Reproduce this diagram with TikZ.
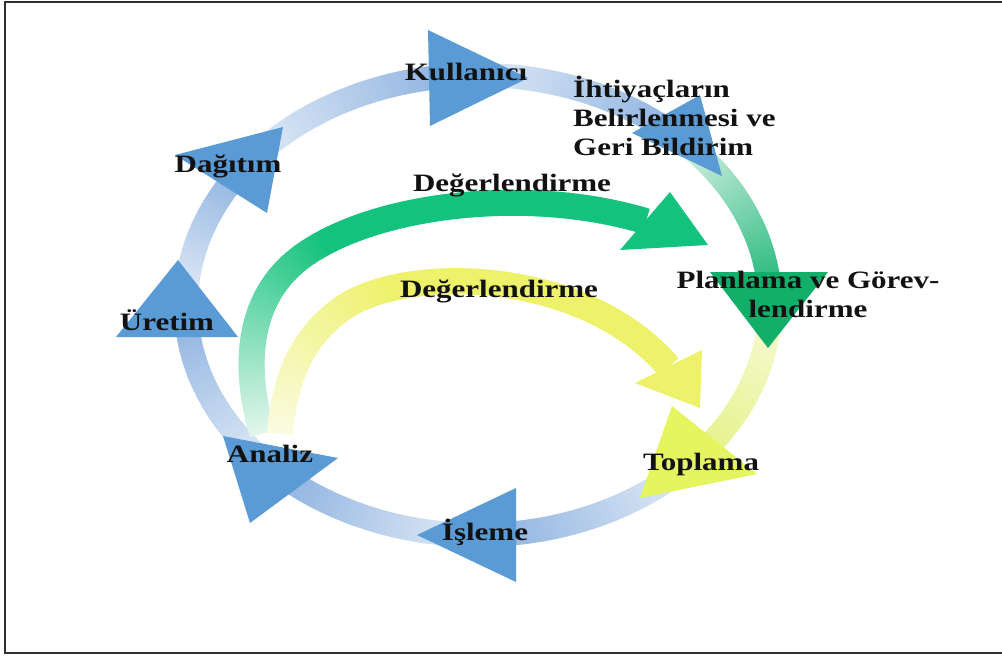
\documentclass[tikz,border=0pt]{standalone}
\usepackage{fontspec}
\setmainfont{Liberation Serif}
\usetikzlibrary{decorations.markings}
\definecolor{triblue}{HTML}{5B9BD5}
\definecolor{ringpale}{HTML}{E6EEF8}
\definecolor{ringdark}{HTML}{8AB0DF}
\definecolor{gpale}{HTML}{DDF3E8}
\definecolor{gdark}{HTML}{1CB676}
\definecolor{ypale}{HTML}{F8FBDC}
\definecolor{ydark}{HTML}{E3F283}
\definecolor{trigreen}{HTML}{12AF6B}
\definecolor{triyellow}{HTML}{E4F55F}
\definecolor{arcgreen}{HTML}{13C27C}
\definecolor{arcgreenpale}{HTML}{E2F6EC}
\definecolor{arcyellow}{HTML}{EEF16A}
\definecolor{arcyellowpale}{HTML}{FAFBE0}
\definecolor{txt}{HTML}{121212}
\definecolor{framecol}{HTML}{303030}
\newcommand\wide[1]{\scalebox{1.24}[1]{#1}}
\tikzset{
 gradline/.style n args={4}{postaction={decorate,decoration={markings,
   mark=between positions 0 and 1 step 2.5pt with {%
     \pgfmathsetmacro\gf{min(100,(\pgfkeysvalueof{/pgf/decoration/mark info/distance from start}/\pgfdecoratedpathlength)/#4*100)}%
     \draw[line width=#3,draw=#2!\gf!#1,line cap=butt] (-1.8pt,0) -- (1.8pt,0);}}}},
 lbl/.style={font=\fontsize{25}{29}\selectfont\bfseries, text=txt, inner sep=0pt, anchor=base},
}
\begin{document}
\begin{tikzpicture}[x=1pt,y=-1pt]
\useasboundingbox (0,0) rectangle (1002,657);
\fill[white] (0,0) rectangle (1002,657);
\draw[framecol, line width=2pt] (1002,1.5) -- (4.5,1.5) -- (4.5,653) -- (1002,653);
\def\ringseg#1#2#3#4{\path[gradline={#3}{#4}{24pt}{1}] ({478+292*cos(#1)},{305+230*sin(#1)}) arc[start angle=#1,end angle=#2,x radius=292,y radius=230];}
\ringseg{180}{217}{ringpale}{ringdark}
\ringseg{217}{267}{ringpale}{ringdark}
\ringseg{267}{314}{ringpale}{ringdark}
\ringseg{314}{358}{gpale}{gdark}
\ringseg{358}{402.7}{ypale}{ydark}
\ringseg{42.7}{89}{ringpale}{ringdark}
\ringseg{89}{134.4}{ringpale}{ringdark}
\ringseg{134.4}{180}{ringpale}{ringdark}
% inner arcs
\path[gradline={arcgreenpale}{arcgreen}{26pt}{0.4}] (262,432) .. controls (244,370) and (245,300) .. (300,258) .. controls (370,205) and (525,185) .. (645,221);
\fill[arcgreen] (670,192) -- (708,245) -- (620,250) -- cycle;
\path[gradline={arcyellowpale}{arcyellow}{26pt}{0.4}] (280,432) .. controls (285,380) and (300,340) .. (340,310) .. controls (400,265) and (580,265) .. (668,366);
\fill[arcyellow] (702,350) -- (700,408) -- (635,383) -- cycle;
% triangles
\fill[triblue] (178,260) -- (238,337) -- (116,337) -- cycle;
\fill[triblue] (283,127) -- (267,213) -- (175,155) -- cycle;
\fill[triblue] (428,30) -- (528,78) -- (430,126) -- cycle;
\fill[triblue] (700,95) -- (722,176) -- (632,133) -- cycle;
\fill[trigreen] (710,272) -- (828,272) -- (768,348) -- cycle;
\fill[triyellow] (672,406) -- (757,474) -- (640,498) -- cycle;
\fill[triblue] (516,488) -- (516,582) -- (417,535) -- cycle;
\fill[triblue] (223,436) -- (338,458) -- (250,523) -- cycle;
% labels
\node[lbl] (kul) at (466,80) {\wide{Kullanıcı}};
\node[lbl] (dag) at (228,172) {\wide{Dağıtım}};
\node[lbl] (ure) at (167,330) {\wide{Üretim}};
\node[lbl] (ana) at (270,462) {\wide{Analiz}};
\node[lbl] (isl) at (485,540) {\wide{İşleme}};
\node[lbl] (top) at (701,470) {\wide{Toplama}};
\node[lbl] (deg1) at (512,191) {\wide{Değerlendirme}};
\node[lbl] (deg2) at (499,297) {\wide{Değerlendirme}};
\node[lbl, anchor=base west] (iht) at (573,97) {\wide{\begin{tabular}[t]{@{}l@{}}İhtiyaçların\\Belirlenmesi ve\\Geri Bildirim\end{tabular}}};
\node[lbl] (pla) at (808,288) {\wide{\begin{tabular}[t]{@{}c@{}}Planlama ve Görev-\\lendirme\end{tabular}}};
\end{tikzpicture}
\end{document}
